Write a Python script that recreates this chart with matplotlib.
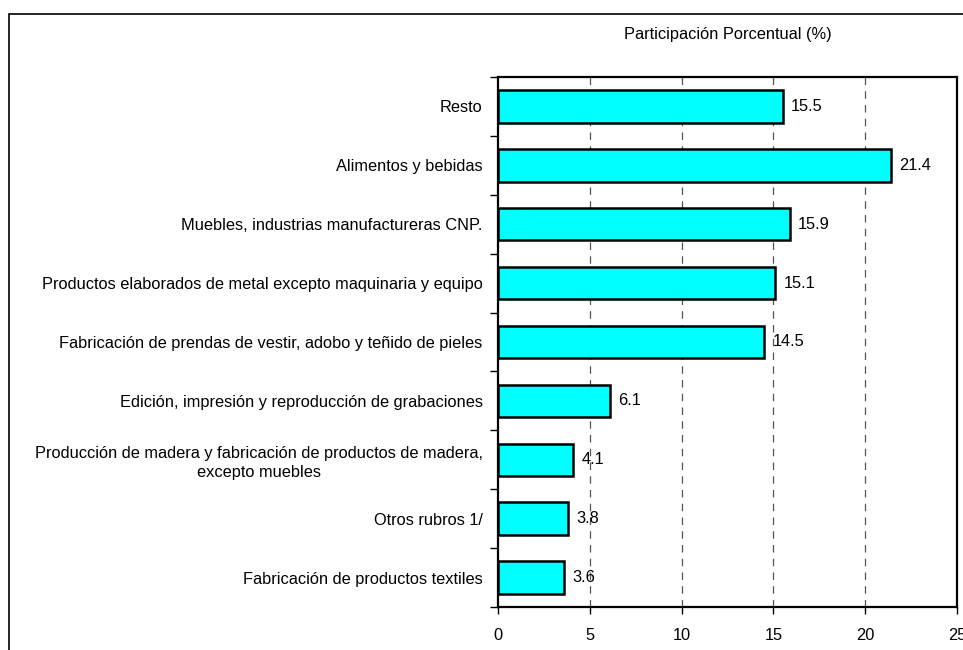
import numpy as np
import matplotlib.pyplot as plt
from matplotlib.patches import Rectangle

plt.rcParams['font.family'] = ['Liberation Sans', 'DejaVu Sans']

# data, top to bottom
categories = [
    "Resto",
    "Alimentos y bebidas",
    "Muebles, industrias manufactureras CNP.",
    "Productos elaborados de metal excepto maquinaria y equipo",
    "Fabricación de prendas de vestir, adobo y teñido de pieles",
    "Edición, impresión y reproducción de grabaciones",
    "Producción de madera y fabricación de productos de madera,\nexcepto muebles",
    "Otros rubros 1/",
    "Fabricación de productos textiles",
]
values = [15.5, 21.4, 15.9, 15.1, 14.5, 6.1, 4.1, 3.8, 3.6]
xticks = [0, 5, 10, 15, 20, 25]

W, H = 963, 650
fs = 11.8
fig = plt.figure(figsize=(W / 100, H / 100), dpi=100)

# outer frame, runs off the right and bottom edge
fig.patches.append(Rectangle((9 / W, -0.1), 1.1, 1 - 14 / H + 0.1,
                             transform=fig.transFigure, fill=False,
                             edgecolor='black', linewidth=1.2))

ax = fig.add_axes([498 / W, 1 - 607 / H, 459 / W, 530 / H])

y = np.arange(len(categories))
ax.barh(y, values, height=0.55, color='#00FFFF', edgecolor='black', linewidth=1.8, zorder=3)
for yi, v in zip(y, values):
    ax.text(v + 0.45, yi, f"{v:.1f}", va='center', ha='left', fontsize=fs, zorder=4)

ax.set_xlim(0, 25)
ax.set_ylim(len(categories) - 0.5, -0.5)
ax.set_xticks(xticks)
ax.set_xticklabels([str(t) for t in xticks], fontsize=fs)
ax.tick_params(axis='x', direction='out', length=5, width=1, pad=10)

ax.set_yticks(y)
ax.set_yticklabels(categories, fontsize=fs, multialignment='center', linespacing=1.35)
ax.set_yticks(np.arange(-0.5, len(categories)), minor=True)
ax.tick_params(axis='y', which='major', length=0, pad=11)
ax.tick_params(axis='y', which='minor', direction='out', length=6, width=1)

for g in xticks[1:-1]:
    ax.axvline(g, color='#555555', linestyle=(0, (6, 5)), linewidth=0.9, zorder=1)

for s in ax.spines.values():
    s.set_linewidth(1.6)

fig.text((498 + 957) / 2 / W, 1 - 35 / H, "Participación Porcentual (%)",
         ha='center', va='center', fontsize=fs)

fig.savefig('out.png', dpi=100)
